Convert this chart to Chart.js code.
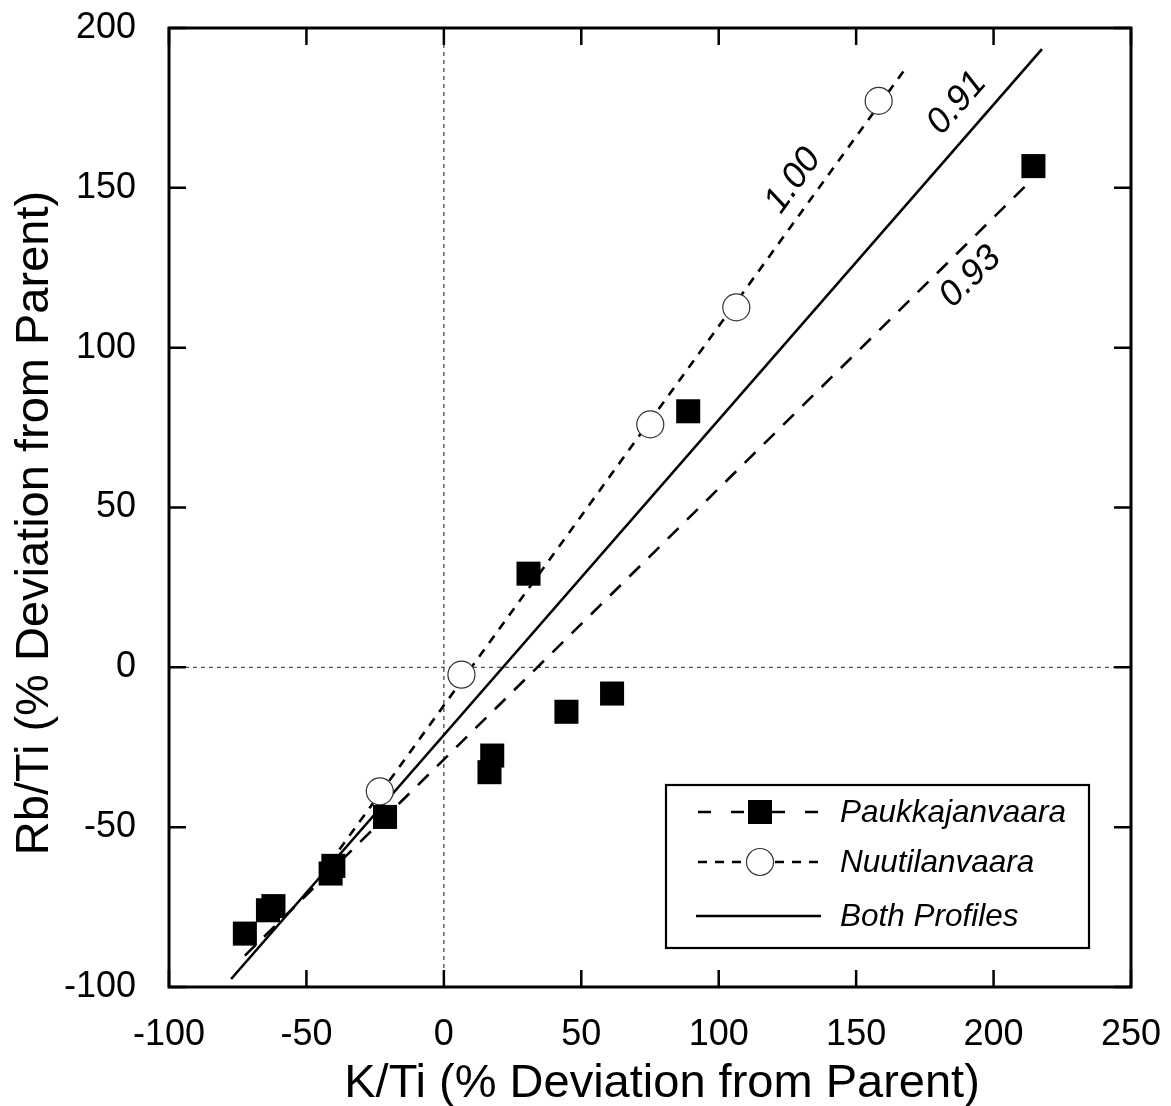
<!DOCTYPE html>
<html>
<head>
<meta charset="utf-8">
<script src="https://cdn.jsdelivr.net/npm/chart.js@4.4.1/dist/chart.umd.min.js"></script>
<style>
  html, body { margin: 0; padding: 0; background: #fff; }
  #wrap { width: 1171px; height: 1106px; }
</style>
</head>
<body>
<div id="wrap"><canvas id="chart" width="1171" height="1106"></canvas></div>
<script>
const FONT = "'Liberation Sans', Arial, Helvetica, sans-serif";

// ---- data ----
// Paukkajanvaara profile (filled squares)
const paukkaK  = [-72.4, -62.0, -64.0, -40.2, -41.2, -21.4, 30.8, 17.6, 16.6, 44.6, 61.2, 88.9, 214.5];
const paukkaRb = [-83.3, -74.7, -76.0, -62.1, -64.5, -46.8, 29.3, -27.6, -32.8, -13.9, -8.2, 80.1, 156.8];

// Nuutilanvaara profile (open circles)
const nuutiK  = [-23.3, 6.4, 75.1, 106.4, 158.2];
const nuutiRb = [-38.8, -2.3, 76.0, 112.6, 177.2];

// regression lines, end points + r value
const fitNames = ['Paukkajanvaara', 'Nuutilanvaara', 'Both Profiles'];
const fitK  = [[-72.4, 214.0], [-38.0, 168.0], [-77.4, 217.6]];
const fitRb = [[-90.2, 152.6], [-57.0, 187.4], [-97.5, 193.4]];
const fitR  = ['0.93', '1.00', '0.91'];

const xTicks = [-100, -50, 0, 50, 100, 150, 200, 250];
const yTicks = [-100, -50, 0, 50, 100, 150, 200];

const xTitle = 'K/Ti (% Deviation from Parent)';
const yTitle = 'Rb/Ti (% Deviation from Parent)';

// where the r labels sit along each line (data units)
const rLabelAt = [[191.6, 122.1], [127.1, 152.2], [186.7, 176.5]];

const toPts = (xs, ys) => xs.map((x, i) => ({ x: x, y: ys[i] }));

const lineDash = [[15, 12], [9, 8], []];

const datasets = [
  {
    label: 'Paukkajanvaara', data: toPts(paukkaK, paukkaRb),
    pointStyle: 'rect', pointRadius: 17, pointHoverRadius: 17,
    backgroundColor: '#000', borderColor: '#000', pointBorderWidth: 0, order: 0
  },
  {
    label: 'Nuutilanvaara', data: toPts(nuutiK, nuutiRb),
    pointStyle: 'circle', pointRadius: 13.5, pointHoverRadius: 13.5,
    backgroundColor: '#fff', borderColor: '#333', pointBorderWidth: 1.2, order: 0
  }
];
fitNames.forEach((name, i) => {
  datasets.push({
    label: name + ' fit', data: toPts(fitK[i], fitRb[i]),
    showLine: true, pointRadius: 0, borderColor: '#000', borderWidth: 2.6,
    borderDash: lineDash[i], order: 1
  });
});

// zero reference lines, under the data
const zeroLines = {
  id: 'zeroLines',
  beforeDatasetsDraw(chart) {
    const { ctx, chartArea: a, scales: { x, y } } = chart;
    ctx.save();
    ctx.strokeStyle = '#555';
    ctx.lineWidth = 1.4;
    ctx.setLineDash([4, 4]);
    const x0 = x.getPixelForValue(0), y0 = y.getPixelForValue(0);
    ctx.beginPath();
    ctx.moveTo(x0, a.top); ctx.lineTo(x0, a.bottom);
    ctx.moveTo(a.left, y0); ctx.lineTo(a.right, y0);
    ctx.stroke();
    ctx.restore();
  }
};

// box frame with inward ticks on all four sides, plus axis titles
const frame = {
  id: 'frame',
  afterDatasetsDraw(chart) {
    const { ctx, chartArea: a, scales: { x, y } } = chart;
    const tl = 17;
    ctx.save();
    ctx.strokeStyle = '#000';
    ctx.lineWidth = 3;
    ctx.strokeRect(a.left, a.top, a.right - a.left, a.bottom - a.top);
    ctx.lineWidth = 2.5;
    ctx.beginPath();
    xTicks.forEach(v => {
      const px = x.getPixelForValue(v);
      ctx.moveTo(px, a.bottom); ctx.lineTo(px, a.bottom - tl);
      ctx.moveTo(px, a.top); ctx.lineTo(px, a.top + tl);
    });
    yTicks.forEach(v => {
      const py = y.getPixelForValue(v);
      ctx.moveTo(a.left, py); ctx.lineTo(a.left + tl, py);
      ctx.moveTo(a.right, py); ctx.lineTo(a.right - tl, py);
    });
    ctx.stroke();

    ctx.fillStyle = '#000';
    ctx.font = '47px ' + FONT;
    ctx.textAlign = 'center';
    ctx.textBaseline = 'alphabetic';
    ctx.fillText(xTitle, 662, 1097);
    ctx.translate(48, 523);
    ctx.rotate(-Math.PI / 2);
    ctx.fillText(yTitle, 0, 0);
    ctx.restore();
  }
};

// r values written along each fit line
const rLabels = {
  id: 'rLabels',
  afterDatasetsDraw(chart) {
    const { ctx, scales: { x, y } } = chart;
    ctx.save();
    ctx.fillStyle = '#000';
    ctx.font = 'italic 36px ' + FONT;
    ctx.textAlign = 'center';
    ctx.textBaseline = 'middle';
    fitR.forEach((r, i) => {
      const dx = x.getPixelForValue(fitK[i][1]) - x.getPixelForValue(fitK[i][0]);
      const dy = y.getPixelForValue(fitRb[i][1]) - y.getPixelForValue(fitRb[i][0]);
      const px = x.getPixelForValue(rLabelAt[i][0]);
      const py = y.getPixelForValue(rLabelAt[i][1]);
      ctx.save();
      ctx.translate(px, py);
      ctx.rotate(Math.atan2(dy, dx));
      ctx.fillText(r, 0, 0);
      ctx.restore();
    });
    ctx.restore();
  }
};

// boxed legend: line sample with marker, then italic name
const profileLegend = {
  id: 'profileLegend',
  afterDraw(chart) {
    const ctx = chart.ctx;
    const box = { l: 666, t: 785, r: 1089, b: 948 };
    const rows = [812, 862, 916];
    const sx0 = 698, sx1 = 818, mx = 760, tx = 840;
    ctx.save();
    ctx.fillStyle = '#fff';
    ctx.fillRect(box.l, box.t, box.r - box.l, box.b - box.t);
    ctx.strokeStyle = '#000';
    ctx.lineWidth = 2.2;
    ctx.strokeRect(box.l, box.t, box.r - box.l, box.b - box.t);

    const legendDash = [[13, 20], [9, 8], []];
    rows.forEach((ry, i) => {
      ctx.lineWidth = 2.6;
      ctx.setLineDash(legendDash[i]);
      ctx.beginPath();
      if (i === 2) {
        ctx.moveTo(sx0 - 2, ry); ctx.lineTo(sx1 + 3, ry);
      } else {
        // dashes run in from both ends toward the marker
        ctx.moveTo(sx0, ry); ctx.lineTo(mx, ry);
        ctx.moveTo(sx1, ry); ctx.lineTo(mx, ry);
      }
      ctx.stroke();
      ctx.setLineDash([]);
    });
    // markers
    ctx.fillStyle = '#000';
    ctx.fillRect(mx - 12, rows[0] - 12, 24, 24);
    ctx.beginPath();
    ctx.arc(mx, rows[1], 13.5, 0, Math.PI * 2);
    ctx.fillStyle = '#fff';
    ctx.fill();
    ctx.lineWidth = 1.2;
    ctx.strokeStyle = '#333';
    ctx.stroke();

    ctx.fillStyle = '#000';
    ctx.font = 'italic 31.5px ' + FONT;
    ctx.textAlign = 'left';
    ctx.textBaseline = 'middle';
    fitNames.forEach((name, i) => ctx.fillText(name, tx, rows[i] + 1));
    ctx.restore();
  }
};

const tickFont = { family: FONT, size: 36 };

new Chart(document.getElementById('chart').getContext('2d'), {
  type: 'scatter',
  data: { datasets: datasets },
  options: {
    responsive: false,
    animation: false,
    devicePixelRatio: 1,
    layout: { padding: { top: 28, right: 40, left: 0, bottom: 0 } },
    plugins: { legend: { display: false }, tooltip: { enabled: false } },
    scales: {
      x: {
        type: 'linear', min: -100, max: 250,
        grid: { display: false }, border: { display: false },
        ticks: { stepSize: 50, font: tickFont, color: '#000', padding: 18, maxRotation: 0 },
        afterFit: s => { s.height = 119; s.paddingLeft = 0; s.paddingRight = 0; }
      },
      y: {
        type: 'linear', min: -100, max: 200,
        grid: { display: false }, border: { display: false },
        ticks: { stepSize: 50, font: tickFont, color: '#000', padding: 25 },
        afterFit: s => { s.width = 169; s.paddingTop = 0; s.paddingBottom = 0; }
      }
    }
  },
  plugins: [zeroLines, frame, rLabels, profileLegend]
});
</script>
</body>
</html>
